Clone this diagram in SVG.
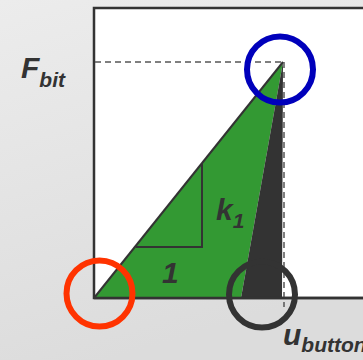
<svg xmlns="http://www.w3.org/2000/svg" width="363" height="360" viewBox="0 0 363 360">
<defs>
<linearGradient id="bg" x1="0" y1="0" x2="0.3" y2="1">
<stop offset="0" stop-color="#ececec"/>
<stop offset="1" stop-color="#dcdcdc"/>
</linearGradient>
</defs>
<style>
.t{font-family:"Liberation Sans",Arial,sans-serif;font-weight:bold;font-style:italic;fill:#333}
.big{font-size:30px}
.sub{font-size:21px}
.dash{stroke:#555;stroke-width:1.5;stroke-dasharray:6 4;fill:none}
.ln{stroke:#333;fill:none}
.ring{fill:none;stroke-width:6}
</style>
<rect width="363" height="360" fill="url(#bg)"/>
<g id="frame">
<rect x="94" y="8" width="280" height="290" fill="#fff" stroke="#333" stroke-width="2.5"/>
</g>
<g id="areas">
<polygon points="94,298 283,62 241,298" fill="#339933"/>
<polygon points="241,298 283,62 282,298" fill="#333"/>
</g>
<g id="connectors">
<line class="dash" x1="95" y1="62" x2="283" y2="62"/>
<line class="dash" x1="284" y1="62" x2="284" y2="307"/>
<line class="ln" stroke-width="2" x1="94" y1="298" x2="283" y2="62"/>
<polyline class="ln" stroke-width="2" points="136,247 202,247 202,163"/>
<line class="ln" stroke-width="2.5" x1="94" y1="298" x2="363" y2="298"/>
</g>
<g id="circles">
<circle id="blue" class="ring" cx="280" cy="69.5" r="33" stroke="#0000bb"/>
<circle id="red" class="ring" cx="99.5" cy="293.5" r="33" stroke="#ff3300"/>
<circle id="dark" class="ring" cx="262" cy="294.5" r="33" stroke="#333"/>
</g>
<g id="labels">
<text class="t" x="21" y="78"><tspan class="big">F</tspan><tspan class="sub" dy="9">bit</tspan></text>
<text class="t" x="216" y="220"><tspan class="big">k</tspan><tspan class="sub" dy="8">1</tspan></text>
<text class="t big" x="162" y="283">1</text>
<text class="t" x="283" y="345"><tspan class="big">u</tspan><tspan class="sub" dy="7">button</tspan></text>
</g>
</svg>
